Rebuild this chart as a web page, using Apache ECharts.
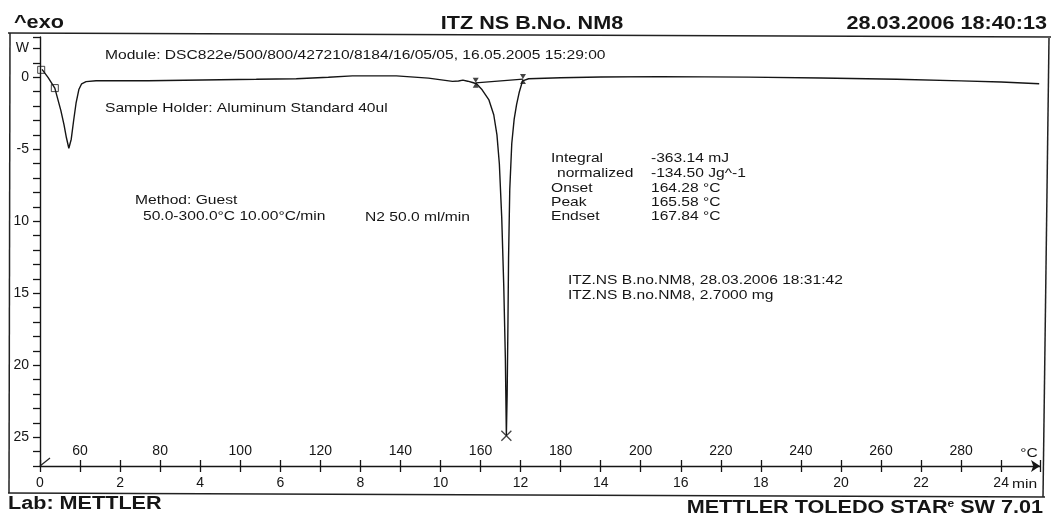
<!DOCTYPE html>
<html>
<head>
<meta charset="utf-8">
<script src="https://cdn.jsdelivr.net/npm/echarts@6/dist/echarts.min.js"></script>
<style>
  html, body { margin: 0; padding: 0; background: #fff; }
  #chart { width: 1051px; height: 514px; }
</style>
</head>
<body>
<div id="chart"></div>
<script>
// DSC curve, time in min, heat flow in mW
const timeMin = [0.05, 0.2, 0.37, 0.52, 0.6, 0.66, 0.72, 0.78, 0.84, 0.9, 0.97, 1.04, 1.15, 1.4, 2.0, 2.7, 3.6, 4.5, 5.4, 6.4, 7.2, 7.8, 8.9, 9.7, 10.3, 10.45, 10.56, 10.68, 10.8, 10.9, 11.04, 11.21, 11.33, 11.41, 11.47, 11.53, 11.58, 11.62, 11.645, 11.665, 11.685, 11.7, 11.73, 11.78, 11.84, 11.9, 11.97, 12.05, 12.2, 13.0, 14.0, 15.5, 17.7, 19.5, 21.4, 23.0, 24.0, 24.95];
const heatFlowMW = [0.55, 0.0, -0.75, -2.3, -3.3, -4.2, -4.93, -4.3, -3.0, -1.8, -0.85, -0.45, -0.3, -0.24, -0.23, -0.24, -0.2, -0.17, -0.14, -0.1, 0.0, 0.1, 0.1, -0.06, -0.28, -0.26, -0.2, -0.27, -0.36, -0.45, -0.87, -1.57, -2.6, -4.0, -6.0, -9.8, -14.5, -19.5, -24.9, -22.0, -17.0, -12.5, -7.8, -4.6, -2.9, -1.9, -1.0, -0.25, -0.1, -0.03, 0.02, 0.05, 0.01, -0.05, -0.13, -0.25, -0.33, -0.45];

// integration baseline and evaluation markers
const baselineTime = [10.88, 12.06];
const baselineFlow = [-0.38, -0.12];
const startMarkTime = [0.03, 0.37];
const startMarkFlow = [0.52, -0.75];
const peakMarkTime = [11.645];
const peakMarkFlow = [-24.9];

// tick labels
const timeTickLabels = [0, 2, 4, 6, 8, 10, 12, 14, 16, 18, 20, 22, 24];
const tempTickLabels = [60, 80, 100, 120, 140, 160, 180, 200, 220, 240, 260, 280];
const yTickValues = [2, 0, -5, -10, -15, -20, -25];
const yTickTexts = ['W', '0', '-5', '10', '15', '20', '25'];

const FONT = '"Liberation Sans", Arial, sans-serif';
const INK = '#151515';

const zip = (xs, ys) => xs.map((x, i) => [x, ys[i]]);

function txt(x, y, s, size, bold, align) {
  return {
    type: 'text', x: x, y: y, scaleX: 1.2,
    style: {
      text: s, fill: INK,
      font: (bold ? 'bold ' : '') + size + 'px ' + FONT,
      textAlign: align || 'left', align: align || 'left',
      textVerticalAlign: 'middle', verticalAlign: 'middle'
    }
  };
}
function seg(x1, y1, x2, y2, w) {
  return { type: 'line', shape: { x1, y1, x2, y2 }, style: { stroke: '#222', lineWidth: w || 1.5 } };
}

const chart = echarts.init(document.getElementById('chart'));
const option = {
  animation: false,
  backgroundColor: '#fff',
  grid: { left: 40, right: 11, top: 37, bottom: 48 },
  xAxis: [
    {
      type: 'value', min: 0, max: 24.97, interval: 1, position: 'bottom',
      axisLine: { onZero: false, lineStyle: { color: INK, width: 1.4 }, symbol: ['none', 'arrow'], symbolSize: [9, 9] },
      axisTick: { length: 6, lineStyle: { color: INK, width: 1.3 } },
      splitLine: { show: false },
      axisLabel: {
        margin: 10, color: INK, fontFamily: FONT, fontSize: 14,
        formatter: v => timeTickLabels.includes(v) ? String(v) : ''
      }
    },
    {
      type: 'value', min: 50, max: 299.7, interval: 10, position: 'bottom', offset: 0,
      axisLine: { show: false, onZero: false },
      axisTick: { inside: true, length: 6, lineStyle: { color: INK, width: 1.3 } },
      splitLine: { show: false },
      axisLabel: {
        inside: true, margin: 8, color: INK, fontFamily: FONT, fontSize: 14,
        formatter: v => tempTickLabels.includes(v) ? String(v) : ''
      }
    }
  ],
  yAxis: {
    type: 'value', min: -27, max: 2.8, interval: 1,
    axisLine: { show: true, onZero: false, lineStyle: { color: INK, width: 1.4 } },
    axisTick: { show: true, length: 7, lineStyle: { color: INK, width: 1.3 } },
    splitLine: { show: false },
    axisLabel: {
      margin: 11, color: INK, fontFamily: FONT, fontSize: 14,
      formatter: v => {
        const i = yTickValues.indexOf(v);
        return i >= 0 ? yTickTexts[i] : '';
      }
    }
  },
  series: [
    {
      type: 'line', data: zip(timeMin, heatFlowMW), showSymbol: false,
      lineStyle: { color: INK, width: 1.4 }
    },
    {
      type: 'line', data: zip(baselineTime, baselineFlow), showSymbol: false,
      lineStyle: { color: INK, width: 1.2 }
    },
    {
      type: 'scatter', data: zip(startMarkTime, startMarkFlow), symbol: 'rect', symbolSize: 7,
      itemStyle: { color: 'rgba(0,0,0,0)', borderColor: INK, borderWidth: 1 }
    },
    {
      type: 'scatter', data: zip(baselineTime, baselineFlow),
      symbol: 'path://M0,0L10,0L5,7ZM5,7L0,14L10,14Z', symbolSize: [6, 10],
      itemStyle: { color: INK }
    },
    {
      type: 'scatter', data: zip(peakMarkTime, peakMarkFlow),
      symbol: 'path://M0,0L10,10M10,0L0,10', symbolSize: 10,
      itemStyle: { color: 'rgba(0,0,0,0)', borderColor: INK, borderWidth: 1.3 }
    }
  ],
  graphic: [
    // frame of the printout
    seg(8, 33, 1051, 37),
    seg(10, 33, 9, 493),
    seg(8, 493, 1045, 497),
    seg(1049, 38, 1043, 497),
    seg(40, 466, 50, 458, 1.2),
    // header and footer
    txt(14, 23, '^exo', 18, true),
    txt(532, 24, 'ITZ NS B.No. NM8', 18, true, 'center'),
    txt(1047, 24, '28.03.2006 18:40:13', 18, true, 'right'),
    txt(8, 504, 'Lab: METTLER', 18, true),
    {
      type: 'text', x: 1043, y: 508, scaleX: 1.2,
      style: {
        text: '{a|METTLER TOLEDO STAR}{s|e}{a| SW 7.01}',
        textAlign: 'right', align: 'right', textVerticalAlign: 'middle', verticalAlign: 'middle',
        rich: {
          a: { fontFamily: FONT, fontWeight: 'bold', fontSize: 18, fill: INK, color: INK },
          s: { fontFamily: FONT, fontWeight: 'bold', fontSize: 10, fill: INK, color: INK, verticalAlign: 'top' }
        }
      }
    },
    // annotations inside the plot
    txt(105, 55, 'Module: DSC822e/500/800/427210/8184/16/05/05, 16.05.2005 15:29:00', 13),
    txt(105, 108, 'Sample Holder: Aluminum Standard 40ul', 13),
    txt(135, 200, 'Method: Guest', 13),
    txt(143, 216, '50.0-300.0°C 10.00°C/min', 13),
    txt(470, 217, 'N2 50.0 ml/min', 13, false, 'right'),
    txt(551, 158, 'Integral', 13),
    txt(557, 173, 'normalized', 13),
    txt(551, 188, 'Onset', 13),
    txt(551, 202, 'Peak', 13),
    txt(551, 216, 'Endset', 13),
    txt(651, 158, '-363.14 mJ', 13),
    txt(651, 173, '-134.50 Jg^-1', 13),
    txt(651, 188, '164.28 °C', 13),
    txt(651, 202, '165.58 °C', 13),
    txt(651, 216, '167.84 °C', 13),
    txt(568, 280, 'ITZ.NS B.no.NM8, 28.03.2006 18:31:42', 13),
    txt(568, 295, 'ITZ.NS B.no.NM8, 2.7000 mg', 13),
    // axis units
    txt(1029, 453, '°C', 13, false, 'center'),
    txt(1012, 484, 'min', 13)
  ]
};
chart.setOption(option);
</script>
</body>
</html>
